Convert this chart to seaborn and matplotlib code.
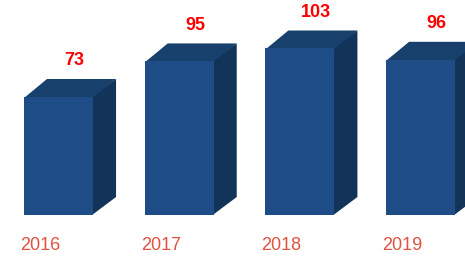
import matplotlib
matplotlib.use("Agg")
import matplotlib.pyplot as plt
from matplotlib.patches import Polygon
import seaborn as sns
import pandas as pd

# chart data
years = ["2016", "2017", "2018", "2019"]
values = [73, 95, 103, 96]

front_color = "#1d4c86"
top_color = "#17406d"
side_color = "#133459"
year_color = "#e0533f"
value_color = "#ff0000"

df = pd.DataFrame({"year": years, "value": values})

sns.set_style("white")
plt.rcParams["font.family"] = ["Liberation Sans", "DejaVu Sans"]

fig = plt.figure(figsize=(4.65, 2.58), dpi=100)
ax = fig.add_axes([0, 0, 1, 1])

sns.barplot(data=df, x="year", y="value", color=front_color, saturation=1,
            width=0.572, ax=ax, zorder=3, edgecolor="none", linewidth=0)

ax.set_xlim(-0.485, 3.368)
ax.set_ylim(-26.6, 133.0)
ax.axis("off")

# 3D depth in pixels
dx, dy = 23, 18
to_disp = ax.transData.transform
to_data = ax.transData.inverted().transform

bars = list(ax.patches)
for patch, val, yr in zip(bars, values, years):
    x0, w, h = patch.get_x(), patch.get_width(), patch.get_height()
    bl, br, tr, tl = to_disp([(x0, 0), (x0 + w, 0), (x0 + w, h), (x0, h)])
    off = [dx, dy]
    # side/top sit behind the front face, tucked 1px under it to avoid seams
    side = to_data([br - [1, 0], br + off, tr + off, tr - [1, -1]])
    top = to_data([tl - [0, 1], tr - [1, 1], tr + off, tl + off])
    ax.add_patch(Polygon(side, closed=True, facecolor=side_color, edgecolor="none", zorder=2))
    ax.add_patch(Polygon(top, closed=True, facecolor=top_color, edgecolor="none", zorder=2))

    # value label above the back top edge
    lx, ly = to_data([[(tl[0] + tr[0]) / 2 + 16, tr[1] + dy + 18]])[0]
    ax.text(lx, ly, str(val), color=value_color, fontsize=13, fontweight="bold",
            ha="center", va="center")

    # year label below the bar
    yx, yy = to_data([[bl[0] - 4, bl[1] - 30]])[0]
    ax.text(yx, yy, yr, color=year_color, fontsize=13, ha="left", va="center")

fig.savefig("out.png", dpi=100)
